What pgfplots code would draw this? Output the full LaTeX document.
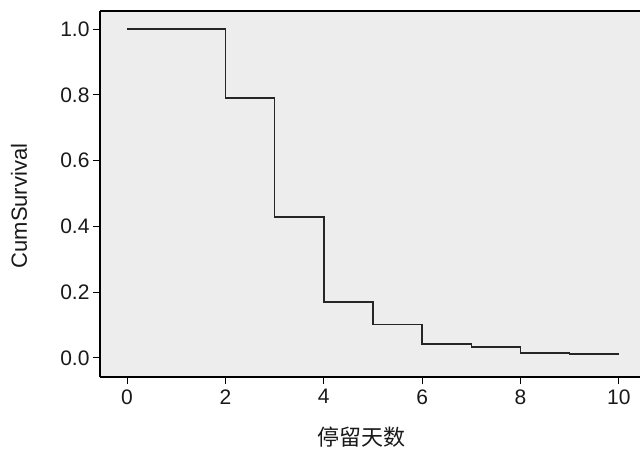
\documentclass[border=0pt]{standalone}
\usepackage{fontspec}
\setmainfont{Liberation Sans}
\newfontfamily\cjk{Noto Sans CJK SC}
\usepackage{pgfplots}
\pgfplotsset{compat=1.18}
\begin{document}
\begin{tikzpicture}[x=1pt,y=1pt]
\begin{axis}[
  at={(0,0)}, anchor=south west,
  scale only axis, width=540pt, height=366pt,
  xmin=-0.55, xmax=10.43, ymin=-0.058, ymax=1.055,
  axis x line=bottom, axis y line=left,
  axis line style={-, line width=1.2pt, black},
  axis background/.style={fill=black!7},
  tick align=outside, major tick length=7pt,
  tick style={black, line width=1pt},
  xtick={0,2,4,6,8,10}, ytick={0,0.2,0.4,0.6,0.8,1.0},
  yticklabel style={/pgf/number format/.cd, fixed, fixed zerofill, precision=1},
  xticklabel style={yshift=-2pt},
  /pgf/number format/assume math mode=true,
  ticklabel style={font=\fontsize{21}{25}\selectfont, text=black!90},
  xlabel={\cjk 停留天数}, ylabel={CumSurvival},
  label style={font=\fontsize{22}{26}\selectfont, text=black!90},
  ylabel style={at={(axis description cs:-0.15,0.467)}, anchor=center, rotate=0},
  xlabel style={at={(axis description cs:0.485,-0.164)}, anchor=center},
  clip=false,
]
\addplot[const plot, line width=1.5pt, color=black!85] coordinates {
  (0,1.0) (2,0.790) (3,0.428) (4,0.170) (5,0.101) (6,0.043) (7,0.033) (8,0.015) (9,0.012) (10,0.012)
};
\draw[line width=1.2pt] (rel axis cs:0,1) -- (rel axis cs:1,1);
\end{axis}
\pgfresetboundingbox
\useasboundingbox (-100,-74) rectangle (540,377);
\end{tikzpicture}
\end{document}
